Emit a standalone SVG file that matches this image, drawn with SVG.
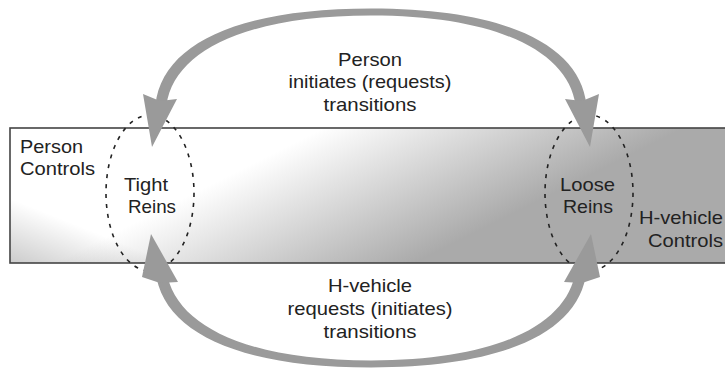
<svg xmlns="http://www.w3.org/2000/svg" width="725" height="370" viewBox="0 0 725 370">
<style>
.lbl{font-family:"Liberation Sans",Arial,sans-serif;font-size:18.5px;fill:#222}
.reins{fill:none;stroke:#222;stroke-width:1.6;stroke-dasharray:4 6}
.arrow{fill:#9a9a9a;stroke:none}
</style>
<defs>
<linearGradient id="bg" gradientUnits="userSpaceOnUse" x1="200" y1="190" x2="272" y2="334">
<stop offset="0" stop-color="#ffffff"/>
<stop offset="1" stop-color="#aaaaaa"/>
</linearGradient>
<linearGradient id="shade" gradientUnits="userSpaceOnUse" x1="10" y1="262" x2="32" y2="207">
<stop offset="0" stop-color="#000" stop-opacity="0.2"/>
<stop offset="1" stop-color="#000" stop-opacity="0"/>
</linearGradient>
</defs>
<g id="band">
<rect x="10" y="128" width="720" height="135" fill="url(#bg)"/>
<rect x="10" y="128" width="720" height="135" fill="url(#shade)"/>
<rect x="10" y="128" width="720" height="135" fill="none" stroke="#444" stroke-width="1.6"/>
<text class="lbl" x="20" y="153" textLength="63" lengthAdjust="spacingAndGlyphs">Person</text>
<text class="lbl" x="20" y="175" textLength="75" lengthAdjust="spacingAndGlyphs">Controls</text>
<text class="lbl" x="639" y="224" textLength="84" lengthAdjust="spacingAndGlyphs">H-vehicle</text>
<text class="lbl" x="648" y="247" textLength="75" lengthAdjust="spacingAndGlyphs">Controls</text>
</g>
<g id="tight">
<ellipse class="reins" cx="150" cy="193" rx="44" ry="78"/>
<text class="lbl" x="124" y="191" textLength="44" lengthAdjust="spacingAndGlyphs">Tight</text>
<text class="lbl" x="128" y="213" textLength="48" lengthAdjust="spacingAndGlyphs">Reins</text>
</g>
<g id="loose">
<ellipse class="reins" cx="589" cy="193" rx="44" ry="78"/>
<text class="lbl" x="560" y="191" textLength="55" lengthAdjust="spacingAndGlyphs">Loose</text>
<text class="lbl" x="563" y="213" textLength="50" lengthAdjust="spacingAndGlyphs">Reins</text>
</g>
<g id="connectors">
<path class="arrow" d="M155.5,105 C162,44 238,8.5 371,8.5 C504,8.5 580,44 586.5,105 L575.5,105 C568,52 498,15.5 371,15.5 C244,15.5 174,52 166.5,105 Z"/>
<polygon class="arrow" points="152,147 143,94 160,101 177,99"/>
<polygon class="arrow" points="590,147 599,94 582,101 565,99"/>
<path class="arrow" d="M155.5,271 C162,332 238,367.5 371,367.5 C504,367.5 580,332 586.5,271 L575.5,271 C568,324 498,360.5 371,360.5 C244,360.5 174,324 166.5,271 Z"/>
<polygon class="arrow" points="151,234 142,277 160,283 178,282"/>
<polygon class="arrow" points="591,234 600,277 582,283 564,282"/>
</g>
<g id="top-label">
<text class="lbl" x="338" y="66" textLength="64" lengthAdjust="spacingAndGlyphs">Person</text>
<text class="lbl" x="288.5" y="88" textLength="163" lengthAdjust="spacingAndGlyphs">initiates (requests)</text>
<text class="lbl" x="323.5" y="110.5" textLength="93" lengthAdjust="spacingAndGlyphs">transitions</text>
</g>
<g id="bottom-label">
<text class="lbl" x="328" y="292" textLength="84" lengthAdjust="spacingAndGlyphs">H-vehicle</text>
<text class="lbl" x="287.5" y="315" textLength="165" lengthAdjust="spacingAndGlyphs">requests (initiates)</text>
<text class="lbl" x="323.5" y="337.5" textLength="93" lengthAdjust="spacingAndGlyphs">transitions</text>
</g>
</svg>
